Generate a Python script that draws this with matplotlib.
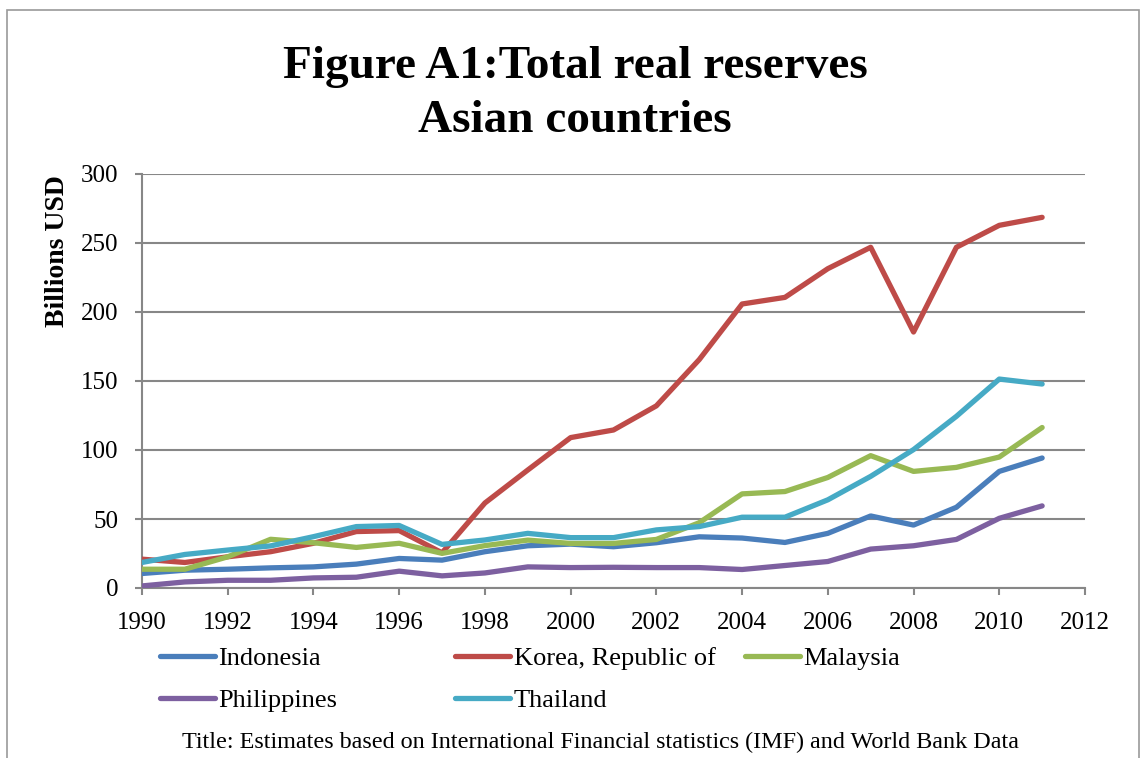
import matplotlib
matplotlib.use("Agg")
import matplotlib.pyplot as plt
from matplotlib.patches import Rectangle

plt.rcParams['font.family'] = ['Liberation Serif', 'DejaVu Serif']

# Total real reserves, billions USD
years = list(range(1990, 2012))
indonesia = [10.5, 12.9, 13.6, 14.6, 15.3, 17.3, 21.4, 20.2, 26.3, 30.6, 31.8,
             29.9, 32.8, 37.1, 36.2, 33.0, 39.6, 52.2, 45.6, 58.5, 84.5, 94.2]
korea = [20.9, 18.5, 22.6, 26.3, 32.4, 40.9, 41.6, 25.5, 61.6, 85.5, 109.0,
         114.5, 132.0, 165.5, 205.8, 210.6, 231.4, 246.9, 185.5, 246.9, 262.8, 268.6]
malaysia = [13.6, 13.6, 22.6, 35.3, 32.8, 29.4, 32.4, 25.1, 30.7, 34.7, 32.3,
            32.3, 35.2, 47.3, 68.2, 69.9, 80.1, 95.9, 84.5, 87.4, 94.9, 116.3]
philippines = [1.5, 4.4, 5.6, 5.6, 7.3, 7.8, 12.2, 8.8, 10.9, 15.3, 14.8,
               15.0, 14.8, 14.8, 13.4, 16.3, 19.2, 28.2, 30.6, 35.2, 50.5, 59.5]
thailand = [18.5, 24.3, 27.5, 30.5, 37.2, 44.5, 45.3, 31.6, 34.8, 39.6, 36.5,
            36.5, 42.1, 44.5, 51.3, 51.3, 63.9, 80.9, 100.3, 124.4, 151.4, 147.8]

series = [
    ("Indonesia", indonesia, "#4A7EBB"),
    ("Korea, Republic of", korea, "#BE4B48"),
    ("Malaysia", malaysia, "#98B954"),
    ("Philippines", philippines, "#7D60A0"),
    ("Thailand", thailand, "#46AAC5"),
]

W, H = 1141, 758
fig = plt.figure(figsize=(W / 100, H / 100), dpi=100)
ax = fig.add_axes([142 / W, 1 - 588 / H, (1085 - 142) / W, (588 - 174) / H])

grid_col = "#878787"
handles = []
for name, vals, col in series:
    ln, = ax.plot(years, vals, color=col, lw=3.8, label=name,
                  solid_capstyle='round', solid_joinstyle='round', zorder=3)
    handles.append(ln)

ax.set_xlim(1990, 2012)
ax.set_ylim(0, 300)
ax.set_xticks(range(1990, 2013, 2))
ax.set_yticks(range(0, 301, 50))
ax.yaxis.grid(True, color=grid_col, lw=1.5)
ax.set_axisbelow(True)
for s in ['top', 'right']:
    ax.spines[s].set_visible(False)
for s in ['left', 'bottom']:
    ax.spines[s].set_color(grid_col)
    ax.spines[s].set_linewidth(1.5)
ax.tick_params(axis='both', direction='out', colors=grid_col, width=1.5,
               length=5, labelsize=18, labelcolor='black')
ax.tick_params(axis='y', pad=12)
ax.tick_params(axis='x', pad=12)

# title, axis label and caption
fig.text(0.5 * (278 + 872) / W, 1 - 78 / H, "Figure A1:Total real reserves",
         ha='center', va='baseline', fontsize=34, fontweight='bold')
fig.text(0.5 * (278 + 872) / W, 1 - 132 / H, "Asian countries",
         ha='center', va='baseline', fontsize=34, fontweight='bold')
fig.text(58 / W, 1 - 251 / H, "Billions USD", rotation=90,
         ha='center', va='center', fontsize=20, fontweight='bold')
fig.text(601 / W, 1 - 742 / H,
         "Title: Estimates based on International Financial statistics (IMF) and World Bank Data",
         ha='center', va='center', fontsize=17.4)

# legend laid out row-wise in three equal columns
columns = [[0, 3], [1, 4], [2]]
col_x = [160, 455, 745]
for idx, x in zip(columns, col_x):
    fig.legend([handles[i] for i in idx], [series[i][0] for i in idx],
               loc='upper left', bbox_to_anchor=(x / W, 1 - 647 / H),
               frameon=False, fontsize=19, handlelength=2.1,
               handletextpad=0.12, labelspacing=0.68, borderpad=0,
               borderaxespad=0)

# outer chart border
fig.patches.append(Rectangle((7 / W, -0.05), (1139 - 7) / W, 1.05 - 10 / H,
                             transform=fig.transFigure, fill=False,
                             edgecolor="#9a9a9a", lw=1.2))

fig.savefig("out.png", dpi=100)
